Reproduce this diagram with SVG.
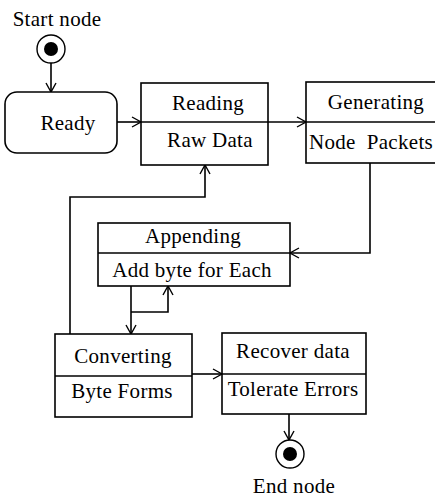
<svg xmlns="http://www.w3.org/2000/svg" width="435" height="497" viewBox="0 0 435 497">
<style>
text{font-family:"Liberation Serif","Times New Roman",serif;font-size:21px;fill:#000;text-anchor:middle;letter-spacing:0.3px}
.box{fill:#fff;stroke:#000;stroke-width:1.6}
.ln{fill:none;stroke:#000;stroke-width:1.6}
</style>
<defs>
<marker id="arr" markerUnits="userSpaceOnUse" markerWidth="14" markerHeight="14" viewBox="0 0 14 14" refX="12" refY="7" orient="auto">
<path d="M3,2 L12,7 L3,12" fill="none" stroke="#000" stroke-width="1.4"/>
</marker>
</defs>
<rect width="435" height="497" fill="#fff"/>
<g id="connectors">
<path class="ln" d="M51,63 V92" marker-end="url(#arr)"/>
<path class="ln" d="M117,122 H141" marker-end="url(#arr)"/>
<path class="ln" d="M268,122 H306" marker-end="url(#arr)"/>
<path class="ln" d="M370,163 V253 H290" marker-end="url(#arr)"/>
<path class="ln" d="M131,312 H168 V286" marker-end="url(#arr)"/>
<path class="ln" d="M131,286 V334" marker-end="url(#arr)"/>
<path class="ln" d="M70,334 V197 H205 V165" marker-end="url(#arr)"/>
<path class="ln" d="M192,374 H222" marker-end="url(#arr)"/>
<path class="ln" d="M289,414 V440" marker-end="url(#arr)"/>
</g>
<g id="start">
<text x="57" y="26">Start node</text>
<circle cx="51" cy="49" r="14" fill="#fff" stroke="#000" stroke-width="1.4"/>
<circle cx="51" cy="49" r="7" fill="#000"/>
</g>
<g id="ready">
<rect class="box" x="5" y="92" width="112" height="61" rx="12"/>
<text x="68" y="130">Ready</text>
</g>
<g id="reading">
<rect class="box" x="141" y="83" width="127" height="82"/>
<line class="ln" x1="141" y1="122" x2="268" y2="122"/>
<text x="208" y="110">Reading</text>
<text x="210" y="147">Raw Data</text>
</g>
<g id="generating">
<rect class="box" x="306" y="82" width="130" height="81"/>
<line class="ln" x1="306" y1="122" x2="436" y2="122"/>
<text x="376" y="109">Generating</text>
<text x="371" y="149" xml:space="preserve">Node  Packets</text>
</g>
<g id="appending">
<rect class="box" x="98" y="223" width="192" height="63"/>
<line class="ln" x1="98" y1="253" x2="290" y2="253"/>
<text x="193" y="243">Appending</text>
<text x="192" y="277">Add byte for Each</text>
</g>
<g id="converting">
<rect class="box" x="55" y="334" width="137" height="83"/>
<line class="ln" x1="55" y1="376" x2="192" y2="376"/>
<text x="123" y="363">Converting</text>
<text x="122" y="398">Byte Forms</text>
</g>
<g id="recover">
<rect class="box" x="222" y="333" width="144" height="81"/>
<line class="ln" x1="222" y1="374" x2="366" y2="374"/>
<text x="293" y="358">Recover data</text>
<text x="293" y="396">Tolerate Errors</text>
</g>
<g id="end">
<circle cx="290" cy="454" r="14" fill="#fff" stroke="#000" stroke-width="1.4"/>
<circle cx="290" cy="454" r="7" fill="#000"/>
<text x="294" y="493">End node</text>
</g>
</svg>
